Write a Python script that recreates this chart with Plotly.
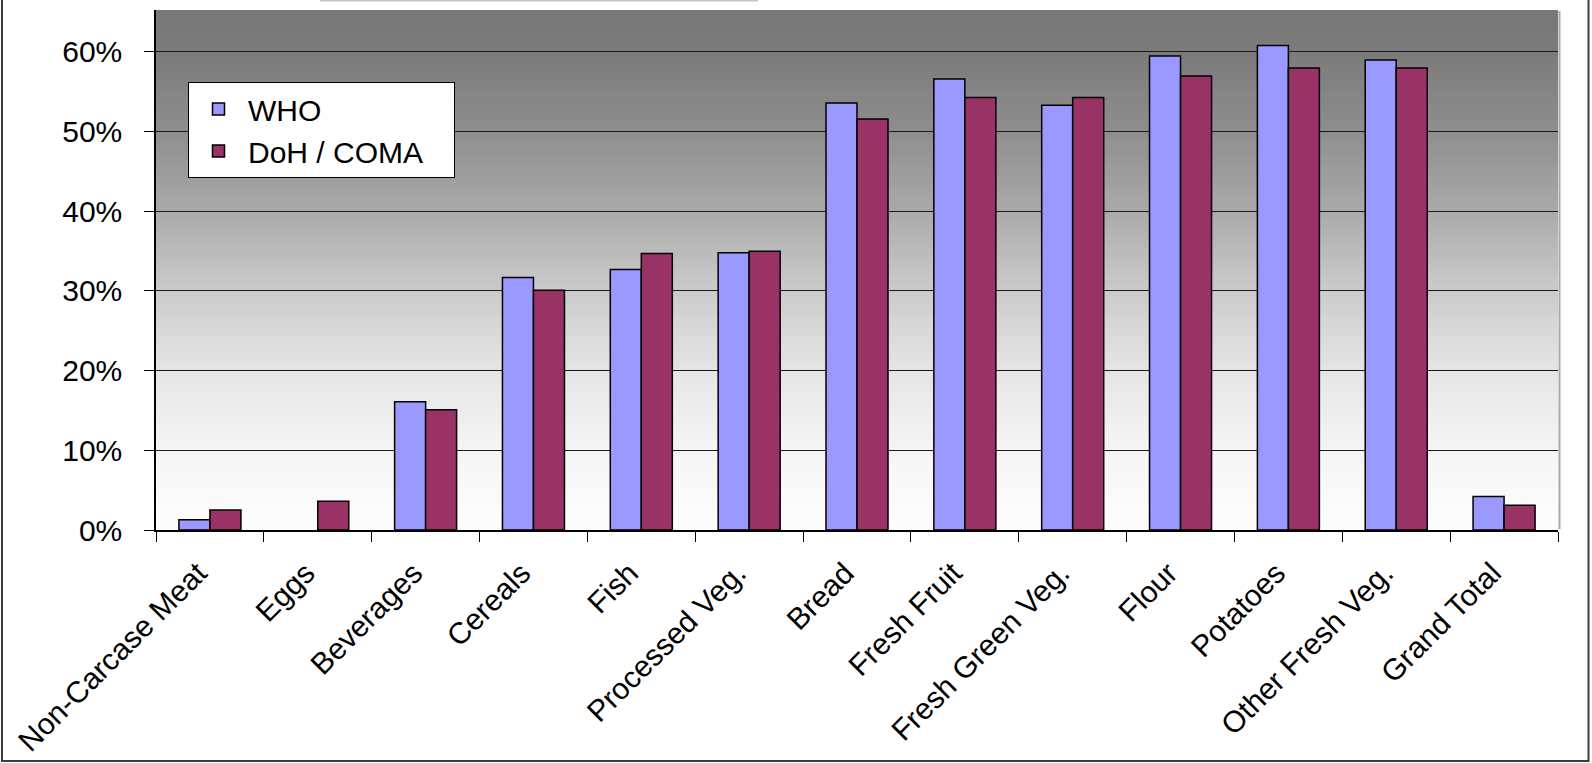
import plotly.graph_objects as go
import numpy as np

# Food groups and the share meeting each guideline
categories = ["Non-Carcase Meat", "Eggs", "Beverages", "Cereals", "Fish",
              "Processed Veg.", "Bread", "Fresh Fruit", "Fresh Green Veg.",
              "Flour", "Potatoes", "Other Fresh Veg.", "Grand Total"]
who = [0.013, 0.0, 0.161, 0.317, 0.327, 0.348, 0.536, 0.566, 0.533,
       0.595, 0.608, 0.590, 0.042]
doh_coma = [0.025, 0.036, 0.151, 0.301, 0.347, 0.350, 0.516, 0.543, 0.543,
            0.570, 0.580, 0.580, 0.031]
series_names = ["WHO", "DoH / COMA"]

W, H = 1592, 763
M_L, M_R, M_T, M_B = 156, 34, 10, 233
PW, PH = W - M_L - M_R, H - M_T - M_B
Y_MAX = 0.6527
FONT = "Liberation Sans, Arial, sans-serif"
PAD = "\u00a0\u00a0\u00a0"   # right padding inside the legend box


def xp(px):
    return (px - M_L) / PW


def yp(py):
    return (M_T + PH - py) / PH


def outline_widths(values):
    # no outline for empty bars
    return [0 if v == 0 else 1.5 for v in values]


fig = go.Figure()
fig.add_trace(go.Bar(x=categories, y=who, name=series_names[0] + PAD,
                     marker=dict(color="#9999FF",
                                 line=dict(color="black", width=outline_widths(who)))))
fig.add_trace(go.Bar(x=categories, y=doh_coma, name=series_names[1] + PAD,
                     marker=dict(color="#993366",
                                 line=dict(color="black", width=outline_widths(doh_coma)))))

shapes = []
# vertical grey gradient behind the plot area (dark at top, white at bottom)
stops_v = [0.0, 0.1, 0.2, 0.3, 0.4, 0.5, 0.6, 0.66]
stops_g = [253, 245, 229, 203, 170, 142, 123, 120]
n_bands = 160
edges = np.linspace(0, Y_MAX, n_bands + 1)
step = edges[1] - edges[0]
for a, b in zip(edges[:-1], edges[1:]):
    g = int(round(np.interp((a + b) / 2, stops_v, stops_g)))
    shapes.append(dict(type="rect", xref="paper", yref="y", x0=0, x1=1,
                       y0=a, y1=min(b + step * 0.8, Y_MAX),
                       fillcolor=f"rgb({g},{g},{g})",
                       line=dict(width=0), layer="below"))

# plot-area shadow on the right edge
shapes.append(dict(type="line", xref="paper", yref="paper",
                   x0=xp(1559.5), x1=xp(1559.5), y0=yp(529), y1=yp(11),
                   line=dict(color="#a8a8a8", width=2), layer="below"))
# outer chart frame
shapes.append(dict(type="rect", xref="paper", yref="paper",
                   x0=xp(2), x1=xp(1588.5), y0=yp(761), y1=yp(-20),
                   line=dict(color="#3c3c3c", width=2), fillcolor="rgba(0,0,0,0)",
                   layer="above"))
# lower edge of the title box
shapes.append(dict(type="line", xref="paper", yref="paper",
                   x0=xp(320), x1=xp(758), y0=yp(0.5), y1=yp(0.5),
                   line=dict(color="#c4c4c4", width=2), layer="above"))

# category labels, padded so their ends sit on the category centres
tick_text = [c + "\u00a0\u00a0" for c in categories]

fig.update_layout(
    width=W, height=H,
    margin=dict(l=M_L, r=M_R, t=M_T, b=M_B, pad=0, autoexpand=False),
    paper_bgcolor="white",
    plot_bgcolor="rgba(0,0,0,0)",
    barmode="group", bargap=0.425, bargroupgap=0,
    font=dict(family=FONT, size=30, color="black"),
    shapes=shapes,
    showlegend=True,
    legend=dict(x=xp(188), y=yp(82), xanchor="left", yanchor="top",
                bgcolor="white", bordercolor="black", borderwidth=1,
                font=dict(family=FONT, size=30, color="black"),
                tracegroupgap=0, itemwidth=49),
    xaxis=dict(type="category", showline=True, linecolor="black", linewidth=1.5,
               ticks="outside", tickson="boundaries", ticklen=10,
               tickcolor="black", tickwidth=1, tickangle=-45,
               tickmode="array", tickvals=categories, ticktext=tick_text,
               showgrid=False, ticklabelstandoff=0, automargin=False,
               tickfont=dict(family=FONT, size=30, color="black")),
    yaxis=dict(range=[0, Y_MAX], dtick=0.1, tickformat=".0%",
               showline=True, linecolor="black", linewidth=1.5,
               ticks="outside", ticklen=10, tickcolor="black", tickwidth=1,
               showgrid=True, gridcolor="#1a1a1a", gridwidth=1,
               zeroline=False, ticklabelstandoff=16, automargin=False,
               tickfont=dict(family=FONT, size=30, color="black")),
)

fig.write_html("out.html")
